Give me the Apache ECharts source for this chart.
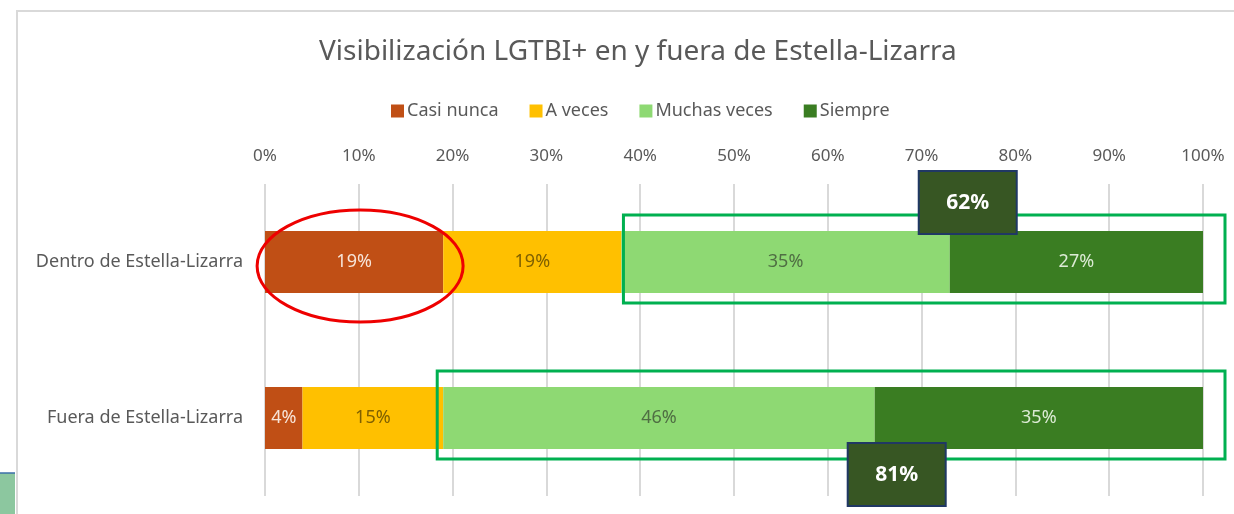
<!DOCTYPE html>
<html>
<head>
<meta charset="utf-8">
<script src="https://cdn.jsdelivr.net/npm/echarts@6/dist/echarts.min.js"></script>
<style>
  html, body { margin: 0; padding: 0; background: #fff; }
  #main { width: 1234px; height: 514px; }
</style>
</head>
<body>
<div id="main"></div>
<script>
const categories = ['Dentro de Estella-Lizarra', 'Fuera de Estella-Lizarra'];
const seriesNames = ['Casi nunca', 'A veces', 'Muchas veces', 'Siempre'];
const casiNunca = [19, 4];
const aVeces = [19, 15];
const muchasVeces = [35, 46];
const siempre = [27, 35];

const colors = ['#c04f15', '#ffc000', '#8ed973', '#3a7d22'];
const labelColors = ['#f7e4d8', '#7f6000', '#4f6e43', '#dcebd5'];
const font = '"Noto Sans", sans-serif';

const chart = echarts.init(document.getElementById('main'));

const values = [casiNunca, aVeces, muchasVeces, siempre];
const option = {
  animation: false,
  backgroundColor: '#fff',
  color: colors,
  textStyle: { fontFamily: font },
  title: {
    text: 'Visibilización LGTBI+ en y fuera de Estella-Lizarra',
    left: 314,
    top: 33,
    textStyle: { fontSize: 28, fontWeight: 'normal', color: '#595959', fontFamily: font }
  },
  legend: {
    top: 97,
    left: 386,
    itemWidth: 13,
    itemHeight: 13,
    itemGap: 31,
    icon: 'rect',
    textStyle: { fontSize: 18, color: '#595959', fontFamily: font, padding: [0, 0, 0, -2] },
    data: seriesNames
  },
  grid: { left: 265, right: 31, top: 184, bottom: 18 },
  xAxis: {
    type: 'value',
    position: 'top',
    min: 0,
    max: 100,
    interval: 10,
    axisLine: { show: false },
    axisTick: { show: false },
    axisLabel: { formatter: '{value}%', color: '#595959', fontSize: 17, margin: 19 },
    splitLine: { lineStyle: { color: '#d9d9d9', width: 2 } }
  },
  yAxis: {
    type: 'category',
    inverse: true,
    data: categories,
    axisLine: { show: false },
    axisTick: { show: false },
    axisLabel: { color: '#595959', fontSize: 18, margin: 22 }
  },
  series: seriesNames.map((name, i) => ({
    name: name,
    type: 'bar',
    stack: 'total',
    barWidth: 62,
    data: values[i],
    itemStyle: { color: colors[i] },
    label: {
      show: true,
      position: 'inside',
      formatter: '{c}%',
      color: labelColors[i],
      fontSize: 18
    }
  }))
};
chart.setOption(option);

// annotations placed from the data positions
const px = (v, c) => chart.convertToPixel({ gridIndex: 0 }, [v, c]);
const greens = [0, 1].map(k => muchasVeces[k] + siempre[k]);
const startGreen = [0, 1].map(k => casiNunca[k] + aVeces[k]);
const end = px(100, 0)[0];

const graphics = [
  { type: 'rect', shape: { x: 17, y: 11, width: 1400, height: 700 }, style: { fill: 'none', stroke: '#d9d9d9', lineWidth: 2 }, z: 0 },
  { type: 'rect', shape: { x: 0, y: 473, width: 15, height: 60 }, style: { fill: '#8cc79f' }, z: 0 },
  { type: 'line', shape: { x1: 0, y1: 473, x2: 15, y2: 473 }, style: { stroke: '#3b6fa8', lineWidth: 1.5 }, z: 0 }
];

[0, 1].forEach(k => {
  const left = px(startGreen[k], k);
  const cy = left[1];
  const x0 = left[0] + (k === 0 ? 2 : -6);
  graphics.push({
    type: 'rect',
    shape: { x: x0, y: cy - 47, width: end + 22 - x0, height: 88 },
    style: { fill: 'none', stroke: '#00b050', lineWidth: 3 },
    z: 10
  });
  const split = px(startGreen[k] + muchasVeces[k], k)[0];
  const bx = k === 0 ? split - 31 : split - 27;
  const by = k === 0 ? cy - 91 : cy + 25;
  graphics.push({
    type: 'rect',
    shape: { x: bx, y: by, width: 98, height: 63 },
    style: { fill: '#375623', stroke: '#203864', lineWidth: 2 },
    z: 11
  });
  graphics.push({
    type: 'text',
    x: bx + 49,
    y: by + 32,
    style: {
      text: greens[k] + '%',
      fill: '#ffffff',
      font: 'bold 21px ' + font,
      align: 'center',
      verticalAlign: 'middle'
    },
    z: 12
  });
});

const brown = px(casiNunca[0] / 2, 0);
graphics.push({
  type: 'ellipse',
  shape: { cx: brown[0] + 6, cy: brown[1] + 4, rx: 103, ry: 56 },
  style: { fill: 'none', stroke: '#ee0000', lineWidth: 3 },
  z: 12
});

chart.setOption({ graphic: graphics });
</script>
</body>
</html>
